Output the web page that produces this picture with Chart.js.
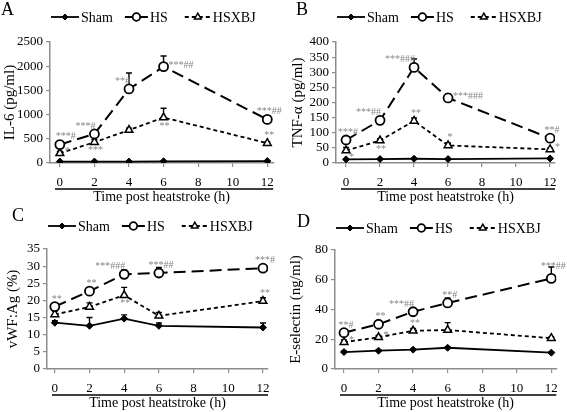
<!DOCTYPE html>
<html>
<head>
<meta charset="utf-8">
<script src="https://cdn.jsdelivr.net/npm/chart.js@4.4.1/dist/chart.umd.min.js"></script>
<style>
  html, body { margin: 0; padding: 0; background: #fff; }
  #wrap { position: relative; width: 567px; height: 412px; overflow: hidden; }
  canvas { position: absolute; }
</style>
</head>
<body>
<div id="wrap">
  <canvas id="cA" width="283" height="206" style="left:0;top:0"></canvas>
  <canvas id="cB" width="284" height="206" style="left:283px;top:0"></canvas>
  <canvas id="cC" width="283" height="206" style="left:0;top:206px"></canvas>
  <canvas id="cD" width="284" height="206" style="left:283px;top:206px"></canvas>
</div>
<script>
// ---------- shared data ----------
const timePoints = [0, 2, 4, 6, 12];
const xTickLabels = [0, 2, 4, 6, 8, 10, 12];
const seriesNames = ['Sham', 'HS', 'HSXBJ'];
const xTitle = 'Time post heatstroke (h)';

// ---------- A: IL-6 ----------
const il6Ticks = [0, 500, 1000, 1500, 2000, 2500];
const il6Sham = [30, 30, 30, 35, 40];
const il6HS = [380, 600, 1530, 1990, 900];
const il6HSXBJ = [200, 430, 680, 940, 410];
const il6ShamErr = [0, 0, 0, 0, 0];
const il6HSErr = [30, 40, 330, 220, 40];
const il6HSXBJErr = [40, 50, 40, 190, 30];
const il6HSSig = ['***#', '***#', '**#', '***##', '***##'];
const il6HSXBJSig = ['*', '***', '', '**', '**'];

// ---------- B: TNF-α ----------
const tnfTicks = [0, 50, 100, 150, 200, 250, 300, 350, 400];
const tnfSham = [12, 13, 14, 13, 15];
const tnfHS = [76, 141, 316, 215, 82];
const tnfHSXBJ = [41, 74, 139, 58, 45];
const tnfShamErr = [0, 0, 0, 0, 0];
const tnfHSErr = [6, 5, 28, 13, 8];
const tnfHSXBJErr = [10, 6, 10, 8, 4];
const tnfHSSig = ['***#', '***##', '***###', '***###', '**#'];
const tnfHSXBJSig = ['*', '**', '**', '*', '*'];

// ---------- C: vWF:Ag ----------
const vwfTicks = [0, 5, 10, 15, 20, 25, 30, 35];
const vwfSham = [13.5, 12.6, 14.7, 12.6, 12.1];
const vwfHS = [18.2, 22.7, 27.6, 28.0, 29.4];
const vwfHSXBJ = [15.9, 18.1, 21.5, 15.5, 19.8];
const vwfShamErr = [0.6, 2.4, 1.1, 0.8, 1.3];
const vwfHSErr = [0.5, 0.5, 1.3, 1.6, 0.8];
const vwfHSXBJErr = [1.0, 1.2, 2.3, 1.0, 1.0];
const vwfHSSig = ['**', '**', '***###', '***##', '***#'];
const vwfHSXBJSig = ['', '', '**', '', '**'];

// ---------- D: E-selectin ----------
const eselTicks = [0, 20, 40, 60, 80];
const eselSham = [11.4, 12.3, 13.0, 14.3, 11.0];
const eselHS = [24.4, 30.1, 38.5, 44.4, 60.9];
const eselHSXBJ = [18.0, 21.3, 25.7, 26.2, 20.7];
const eselShamErr = [0.5, 0.5, 0.5, 0.5, 0.5];
const eselHSErr = [1.0, 2.0, 1.2, 3.3, 7.7];
const eselHSXBJErr = [1.5, 1.2, 1.5, 5.0, 0.8];
const eselHSSig = ['**#', '**', '***##', '**#', '***##'];
const eselHSXBJSig = ['*', '*', '**', '', ''];

// ---------- styling ----------
const FONT = "'Liberation Serif', 'Times New Roman', serif";
const AXIS_GREY = '#8c8c8c';
const SIG_GREY = '#858585';

Chart.defaults.font.family = FONT;
Chart.defaults.font.weight = 'normal';
Chart.defaults.font.style = 'normal';
Chart.defaults.font.size = 14;
Chart.defaults.color = '#000';

const panels = [
  { id: 'cA', letter: 'A', yTitle: 'IL-6 (pg/ml)', ticks: il6Ticks,
    series: [il6Sham, il6HS, il6HSXBJ], errs: [il6ShamErr, il6HSErr, il6HSXBJErr],
    sigs: [null, il6HSSig, il6HSXBJSig],
    place: [null, ['ur', 'ul', 'ul', 'r', 'u'], ['r', 'd', 'd', 'd', 'u']],
    xmin: -0.57, xmax: 12.34, pad: { left: 2.5, right: 8, top: 42 }, titlePad: -3.5,
    letterX: 1, letterY: 10, legendY: 17 },
  { id: 'cB', letter: 'B', yTitle: 'TNF-α (pg/ml)', ticks: tnfTicks,
    series: [tnfSham, tnfHS, tnfHSXBJ], errs: [tnfShamErr, tnfHSErr, tnfHSXBJErr],
    sigs: [null, tnfHSSig, tnfHSXBJSig],
    place: [null, ['u', 'ul', 'ul', 'r', 'u'], ['dr', 'd', 'u', 'u', 'r']],
    xmin: -0.59, xmax: 12.29, pad: { left: 7.5, right: 12, top: 42 }, titlePad: 1,
    letterX: 13, letterY: 10, legendY: 17 },
  { id: 'cC', letter: 'C', yTitle: 'vWF:Ag (%)', ticks: vwfTicks,
    series: [vwfSham, vwfHS, vwfHSXBJ], errs: [vwfShamErr, vwfHSErr, vwfHSXBJErr],
    sigs: [null, vwfHSSig, vwfHSXBJSig],
    place: [null, ['u', 'u', 'ul', 'u', 'u'], ['d', 'd', 'd', 'd', 'u']],
    xmin: -0.45, xmax: 12.29, pad: { left: 5.5, right: 15, top: 43 }, titlePad: 3.5,
    letterX: 12, letterY: 10, legendY: 20 },
  { id: 'cD', letter: 'D', yTitle: 'E-selectin (ng/ml)', ticks: eselTicks,
    series: [eselSham, eselHS, eselHSXBJ], errs: [eselShamErr, eselHSErr, eselHSXBJErr],
    sigs: [null, eselHSSig, eselHSXBJSig],
    place: [null, ['u', 'u', 'ul', 'u', 'u'], ['r', 'r', 'u', 'u', 'u']],
    xmin: -0.52, xmax: 12.29, pad: { left: 5.5, right: 9, top: 44 }, titlePad: 8.5,
    letterX: 14, letterY: 16, legendY: 22 }
];

const seriesStyle = [
  { dash: [], legendDash: [], width: 1.8, point: 'rectRot', radius: 3.5, legendRadius: 3, fill: '#000', pw: 1 },
  { dash: [12, 6], legendDash: [], width: 2, point: 'circle', radius: 4.5, legendRadius: 3.8, fill: '#fff', pw: 1.8 },
  { dash: [4, 3], legendDash: [4, 3], width: 1.8, point: 'triangle', radius: 4.5, legendRadius: 3.8, fill: '#fff', pw: 1.5 }
];

function drawMarker(ctx, style, r, x, y) {
  ctx.save();
  ctx.setLineDash([]);
  ctx.lineWidth = style.pw;
  ctx.strokeStyle = '#000';
  ctx.fillStyle = style.fill;
  ctx.beginPath();
  if (style.point === 'rectRot') {
    ctx.moveTo(x, y - r); ctx.lineTo(x + r, y); ctx.lineTo(x, y + r); ctx.lineTo(x - r, y); ctx.closePath();
  } else if (style.point === 'circle') {
    ctx.arc(x, y, r, 0, Math.PI * 2);
  } else {
    ctx.moveTo(x, y - r); ctx.lineTo(x + r * 0.87, y + r * 0.5); ctx.lineTo(x - r * 0.87, y + r * 0.5); ctx.closePath();
  }
  ctx.fill();
  ctx.stroke();
  ctx.restore();
}

const decorPlugin = {
  id: 'decor',
  beforeDatasetsDraw(chart) {
    const p = chart.options.plugins.decor.panel;
    const ctx = chart.ctx;
    const ys = chart.scales.y;
    ctx.save();
    ctx.strokeStyle = '#000';
    ctx.lineWidth = 1.4;
    p.series.forEach((vals, i) => {
      const meta = chart.getDatasetMeta(i);
      vals.forEach((v, j) => {
        const e = p.errs[i][j];
        if (!e) return;
        const pt = meta.data[j];
        const top = ys.getPixelForValue(v + e);
        ctx.beginPath();
        ctx.moveTo(pt.x, pt.y);
        ctx.lineTo(pt.x, top);
        ctx.moveTo(pt.x - 3, top);
        ctx.lineTo(pt.x + 3, top);
        ctx.stroke();
      });
    });
    ctx.restore();
  },
  afterDatasetsDraw(chart) {
    const p = chart.options.plugins.decor.panel;
    const ctx = chart.ctx;
    const ys = chart.scales.y;
    ctx.save();
    ctx.fillStyle = SIG_GREY;
    ctx.font = '10px ' + FONT;
    p.series.forEach((vals, i) => {
      if (!p.sigs[i]) return;
      const meta = chart.getDatasetMeta(i);
      vals.forEach((v, j) => {
        const t = p.sigs[i][j];
        if (!t) return;
        const pt = meta.data[j];
        const top = ys.getPixelForValue(v + p.errs[i][j]);
        const code = p.place[i][j];
        let x = pt.x, y = pt.y, align = 'center';
        if (code === 'u') { x = pt.x + 2; y = Math.min(pt.y - 5, top + 2); }
        else if (code === 'ul') { align = 'right'; x = pt.x + 1; y = pt.y - 5; }
        else if (code === 'ur') { align = 'left'; x = pt.x - 4; y = pt.y - 6; }
        else if (code === 'r') { align = 'left'; x = pt.x + 5; y = pt.y + 1; }
        else if (code === 'd') { x = pt.x + 1; y = pt.y + 11; }
        else if (code === 'dr') { align = 'left'; x = pt.x + 3; y = pt.y + 9; }
        ctx.textAlign = align;
        ctx.textBaseline = 'alphabetic';
        ctx.fillText(t, x, y);
      });
    });
    ctx.restore();
  },
  afterDraw(chart) {
    const p = chart.options.plugins.decor.panel;
    const ctx = chart.ctx;
    const area = chart.chartArea;
    ctx.save();
    ctx.fillStyle = '#000';
    ctx.font = '18px ' + FONT;
    ctx.textAlign = 'left';
    ctx.textBaseline = 'middle';
    ctx.fillText(p.letter, p.letterX, p.letterY);
    ctx.font = '14px ' + FONT;
    const lineLens = [28, 23, 26];
    const gapsAfter = [12, 17, 0];
    let x = area.left + 1;
    const y = p.legendY;
    seriesNames.forEach((name, i) => {
      const st = seriesStyle[i];
      ctx.strokeStyle = '#000';
      ctx.lineWidth = st.width;
      ctx.setLineDash(st.legendDash);
      ctx.beginPath();
      ctx.moveTo(x, y);
      ctx.lineTo(x + lineLens[i], y);
      ctx.stroke();
      ctx.setLineDash([]);
      drawMarker(ctx, st, st.legendRadius, x + lineLens[i] / 2, y);
      x += lineLens[i] + 2;
      ctx.fillStyle = '#000';
      ctx.fillText(name, x, y + 1);
      x += ctx.measureText(name).width + gapsAfter[i];
    });
    const xs = chart.scales.x;
    const uy = xs.top + 4 + 9 + 13;
    ctx.strokeStyle = '#000';
    ctx.lineWidth = 1.5;
    ctx.beginPath();
    ctx.moveTo(area.left + 5, uy);
    ctx.lineTo(area.right, uy);
    ctx.stroke();
    ctx.restore();
  }
};

panels.forEach(p => {
  const datasets = p.series.map((vals, i) => {
    const st = seriesStyle[i];
    return {
      label: seriesNames[i],
      data: vals.map((v, j) => ({ x: timePoints[j], y: v })),
      borderColor: '#000',
      borderWidth: st.width,
      borderDash: st.dash,
      pointStyle: st.point,
      pointRadius: st.radius,
      pointBackgroundColor: st.fill,
      pointBorderColor: '#000',
      pointBorderWidth: st.pw,
      tension: 0,
      fill: false
    };
  });
  new Chart(document.getElementById(p.id), {
    type: 'line',
    data: { datasets },
    options: {
      responsive: false,
      animation: false,
      devicePixelRatio: 1,
      layout: { padding: { left: p.pad.left, right: p.pad.right, top: p.pad.top, bottom: 0 } },
      plugins: { legend: { display: false }, tooltip: { enabled: false }, decor: { panel: p } },
      scales: {
        x: {
          type: 'linear',
          min: p.xmin, max: p.xmax,
          afterBuildTicks: s => { s.ticks = xTickLabels.map(v => ({ value: v })); },
          grid: { display: true, drawOnChartArea: false, drawTicks: true, tickLength: 4, color: AXIS_GREY, lineWidth: 1.2 },
          border: { display: true, color: AXIS_GREY, width: 1.5 },
          ticks: { color: '#000', font: { family: FONT, size: 13, lineHeight: 1, weight: 'normal' }, padding: 9, maxRotation: 0, autoSkip: false, callback: v => String(v) },
          title: { display: true, text: xTitle, color: '#000', font: { family: FONT, size: 14, lineHeight: 1.1, weight: 'normal' }, padding: { top: -8.4, bottom: 1 } }
        },
        y: {
          type: 'linear',
          min: p.ticks[0], max: p.ticks[p.ticks.length - 1],
          afterBuildTicks: s => { s.ticks = p.ticks.map(v => ({ value: v })); },
          grid: { display: true, drawOnChartArea: false, drawTicks: true, tickLength: 4, color: AXIS_GREY, lineWidth: 1.2 },
          border: { display: true, color: AXIS_GREY, width: 1.5 },
          ticks: { color: '#000', font: { family: FONT, size: 13, lineHeight: 1, weight: 'normal' }, padding: 3, autoSkip: false, callback: v => String(v) },
          title: { display: true, text: p.yTitle, color: '#000', font: { family: FONT, size: 15, lineHeight: 1, weight: 'normal' }, padding: { top: 0, bottom: p.titlePad } }
        }
      }
    },
    plugins: [decorPlugin]
  });
});
</script>
</body>
</html>
